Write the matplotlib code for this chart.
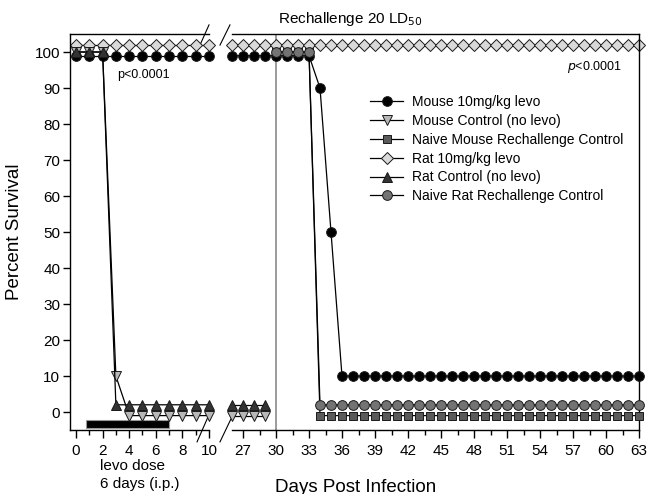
import numpy as np
import matplotlib
matplotlib.use("Agg")
import matplotlib.pyplot as plt

plt.rcParams['font.family'] = ['Liberation Sans', 'DejaVu Sans']

# days on the two pieces of the broken x axis
days_early = [0, 1, 2, 3, 4, 5, 6, 7, 8, 9, 10]
days_late = [26, 27, 28, 29, 30, 31, 32, 33, 34, 35, 36, 37, 38, 39, 40, 41, 42, 43, 44,
             45, 46, 47, 48, 49, 50, 51, 52, 53, 54, 55, 56, 57, 58, 59, 60, 61, 62, 63]
days_naive = [30, 31, 32, 33, 34, 35, 36, 37, 38, 39, 40, 41, 42, 43, 44, 45, 46, 47,
              48, 49, 50, 51, 52, 53, 54, 55, 56, 57, 58, 59, 60, 61, 62, 63]
days_ctrl_late = [26, 27, 28, 29]

# percent survival (small offsets as in the figure so markers don't overlap)
mouse_levo_early = [99, 99, 99, 99, 99, 99, 99, 99, 99, 99, 99]
mouse_levo_late = [99, 99, 99, 99, 99, 99, 99, 99, 90, 50, 10, 10, 10, 10, 10, 10, 10, 10, 10,
                   10, 10, 10, 10, 10, 10, 10, 10, 10, 10, 10, 10, 10, 10, 10, 10, 10, 10, 10]
mouse_ctrl_early = [100, 100, 100, 10, -1, -1, -1, -1, -1, -1, -1]
mouse_ctrl_late = [-1, -1, -1, -1]
naive_mouse = [100, 100, 100, 100, -1, -1, -1, -1, -1, -1, -1, -1, -1, -1, -1, -1, -1,
               -1, -1, -1, -1, -1, -1, -1, -1, -1, -1, -1, -1, -1, -1, -1, -1, -1]
rat_levo_early = [102, 102, 102, 102, 102, 102, 102, 102, 102, 102, 102]
rat_levo_late = [102, 102, 102, 102, 102, 102, 102, 102, 102, 102, 102, 102, 102, 102, 102,
                 102, 102, 102, 102, 102, 102, 102, 102, 102, 102, 102, 102, 102, 102, 102,
                 102, 102, 102, 102, 102, 102, 102, 102]
rat_ctrl_early = [100, 100, 100, 2, 2, 2, 2, 2, 2, 2, 2]
rat_ctrl_late = [2, 2, 2, 2]
naive_rat = [100, 100, 100, 100, 2, 2, 2, 2, 2, 2, 2, 2, 2, 2, 2, 2, 2,
             2, 2, 2, 2, 2, 2, 2, 2, 2, 2, 2, 2, 2, 2, 2, 2, 2]

labels = ["Mouse 10mg/kg levo", "Mouse Control (no levo)", "Naive Mouse Rechallenge Control",
          "Rat 10mg/kg levo", "Rat Control (no levo)", "Naive Rat Rechallenge Control"]
dose_start, dose_end = 0.75, 7.0

W, H = 647, 494
fig = plt.figure(figsize=(6.47, 4.94), dpi=100)
ax1 = fig.add_axes([70 / W, 64 / H, 139 / W, 396 / H])
ax2 = fig.add_axes([232 / W, 64 / H, 407 / W, 396 / H])

lw = 0.9
styles = [
    dict(marker='o', mfc='black', ms=7),
    dict(marker='v', mfc='#b8b8b8', ms=7.5),
    dict(marker='s', mfc='#5a5a5a', ms=6),
    dict(marker='D', mfc='#d9d9d9', ms=6),
    dict(marker='^', mfc='#333333', ms=7.5),
    dict(marker='o', mfc='#737373', ms=7),
]
for st in styles:
    st.update(color='black', mec='#1a1a1a', mew=0.7, lw=lw, clip_on=False)

# early segment
ax1.plot(days_early, mouse_levo_early, **styles[0], zorder=3)
ax1.plot(days_early, mouse_ctrl_early, **styles[1], zorder=3)
ax1.plot(days_early, rat_levo_early, **styles[3], zorder=2.5)
ax1.plot(days_early, rat_ctrl_early, **styles[4], zorder=3)

# late segment
ax2.plot(days_late, mouse_levo_late, **styles[0], label=labels[0], zorder=3)
ax2.plot(days_ctrl_late, mouse_ctrl_late, **styles[1], label=labels[1], zorder=3)
ax2.plot(days_naive, naive_mouse, **styles[2], label=labels[2], zorder=3)
ax2.plot(days_late, rat_levo_late, **styles[3], label=labels[3], zorder=2.5)
ax2.plot(days_ctrl_late, rat_ctrl_late, **styles[4], label=labels[4], zorder=3)
ax2.plot(days_naive, naive_rat, **styles[5], label=labels[5], zorder=3)

ax2.axvline(30, color='#808080', lw=1.1, zorder=1)

# dosing bar
ax1.barh(-3.35, dose_end - dose_start, left=dose_start, height=2.1,
         color='black', edgecolor='#999999', lw=0.8, zorder=2)

for ax in (ax1, ax2):
    ax.set_ylim(-5, 105)
    for s in ax.spines.values():
        s.set_linewidth(1.0)
    ax.tick_params(axis='x', which='major', direction='out', length=6, width=1,
                   labelsize=11, pad=4)
    ax.tick_params(axis='x', which='minor', direction='out', length=3.5, width=1)

ax1.set_xlim(-0.45, 10)
ax1.set_xticks([0, 2, 4, 6, 8, 10])
ax1.set_xticks([1, 3, 5, 7, 9], minor=True)
ax1.set_yticks(np.arange(0, 101, 10))
ax1.tick_params(axis='y', direction='out', length=5, width=1, labelsize=11, pad=2)
ax1.spines['right'].set_visible(False)

ax2.set_xlim(26, 63)
ax2.set_xticks(np.arange(27, 64, 3))
ax2.set_xticks(np.arange(28.5, 63, 3), minor=True)
ax2.set_yticks([])
ax2.spines['left'].set_visible(False)

# break marks
kw = dict(color='black', lw=0.8, clip_on=False)
ax1.plot([0.935, 1.0], [0.972, 1.023], transform=ax1.transAxes, **kw)
ax1.plot([0.914, 0.993], [-0.03, 0.033], transform=ax1.transAxes, **kw)
ax2.plot([-0.0295, -0.005], [0.972, 1.023], transform=ax2.transAxes, **kw)
ax2.plot([-0.0295, -0.0025], [-0.03, 0.028], transform=ax2.transAxes, **kw)

ax1.text(3.1, 93.6, "p<0.0001", fontsize=9, va='center', ha='left')
ax2.text(61.45, 95.8, r"$\it{p}$<0.0001", fontsize=9, va='center', ha='right')

fig.text(278 / W, 1 - 19 / H, r"Rechallenge 20 LD$_{50}$", fontsize=11,
         ha='left', va='center')
fig.text(100 / W, 1 - 466 / H, "levo dose", fontsize=11, ha='left', va='center')
fig.text(100 / W, 1 - 484 / H, "6 days (i.p.)", fontsize=11, ha='left', va='center')
fig.text(15 / W, 1 - 232 / H, "Percent Survival", fontsize=13.5, rotation=90,
         ha='center', va='center')
fig.text(356 / W, 1 - 487 / H, "Days Post Infection", fontsize=13.5,
         ha='center', va='center')

ax2.legend(loc='upper left', bbox_to_anchor=(370 / W, 1 - 95 / H),
           bbox_transform=fig.transFigure, frameon=False, fontsize=10,
           borderpad=0, borderaxespad=0, handlelength=2.4, handletextpad=0.6,
           labelspacing=0.35)

fig.savefig("out.png", dpi=100)
